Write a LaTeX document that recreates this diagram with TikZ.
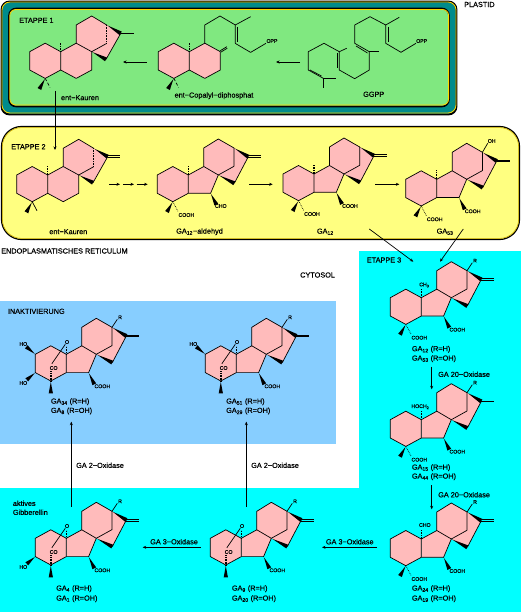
\documentclass[tikz,border=0pt]{standalone}
\usepackage{fontspec}
\setmainfont{Liberation Sans}[RawFeature={embolden=0.4}]
\usetikzlibrary{calc,arrows.meta}
\definecolor{pinkc}{HTML}{FFBBBB}
\definecolor{greenc}{HTML}{80E880}
\definecolor{tealc}{HTML}{008B8B}
\definecolor{goldc}{HTML}{FFD700}
\definecolor{yellowc}{HTML}{FFFF80}
\definecolor{cyanc}{HTML}{00FFFF}
\definecolor{bluec}{HTML}{87CEFF}
\newcommand{\labfont}{\fontsize{7.3}{8}\selectfont}
\newcommand{\chemfont}{\fontsize{5.2}{6}\selectfont}
\tikzset{
  bond/.style={line width=0.7pt,line join=round},
  hashb/.style={line width=1.5pt,dash pattern=on 0.8pt off 0.8pt},
  lab/.style={font=\labfont,inner sep=0pt,anchor=center},
  labw/.style={font=\labfont,inner sep=0pt,anchor=west},
  chem/.style={font=\chemfont,inner sep=0pt,anchor=center},
  arrow/.style={line width=0.7pt,-{Stealth[length=3.5pt,width=3pt]}}
}
\newcommand{\wdg}[2]{\fill ($(#1)!0.15pt!90:(#2)$) -- ($(#2)!2.1pt!90:(#1)$) -- ($(#2)!2.1pt!-90:(#1)$) -- ($(#1)!0.15pt!-90:(#2)$) -- cycle;}
\newcommand{\rings}{%
  \draw[bond] (0,0) -- (0,18.3) -- (-15.5,26.7) -- (-31,18.3) -- (-31,0) -- (-15.5,-8.5) -- cycle;}
% kaurene-type skeleton
\newcommand{\kaur}[4]{\begin{scope}[shift={(#2,#3)},name prefix=#1-]
  \fill[pinkc] (0,0) -- (0,18.3) -- (-15.5,26.7) -- (-31,18.3) -- (-31,0) -- (-15.5,-8.5) -- cycle;
  \fill[pinkc] (0,0) -- (15.5,-8.5) -- (15.5,-26.7) -- (31,-35.7) -- (46,-26.7) -- (60,-18.3) -- (45.3,7.7) -- (31,0) -- (31,18.3) -- (15.5,26.7) -- (0,18.3) -- cycle;
  \rings
  \draw[bond] (0,0) -- (15.5,-8.5) -- (31,0) -- (31,18.3) -- (15.5,26.7) -- (0,18.3);
  \draw[bond] (15.5,-8.5) -- (15.5,-26.7) -- (31,-35.7) -- (46,-26.7);
  \draw[bond] (60,-18.3) -- (45.3,7.7);
  \draw[bond] (46,-8.3) -- (31,0);
  \draw[hashb] (46,-26.7) -- (46,-8.3);
  \wdg{46,-26.7}{60,-18.3}
  \wdg{31,0}{45.3,7.7}
  \draw[hashb] (0,0) -- (0,-9.5);
  \wdg{-15.5,26.7}{-21.3,37.3}
  #4
\end{scope}}
% gibberellin skeleton
\newcommand{\gask}[4]{\begin{scope}[shift={(#2,#3)},name prefix=#1-]
  \fill[pinkc] (0,0) -- (0,18.3) -- (-15.5,26.7) -- (-31,18.3) -- (-31,0) -- (-15.5,-8.5) -- cycle;
  \fill[pinkc] (0,0) -- (15.5,-8.5) -- (15.5,-27) -- (30,-36) -- (45.7,-27) -- (60,-18.3) -- (46,8.3) -- (30,0) -- (22.3,18.3) -- (0,18.3) -- cycle;
  \rings
  \draw[bond] (0,0) -- (15.5,-8.5) -- (30,0) -- (22.3,18.3) -- (0,18.3);
  \draw[bond] (15.5,-8.5) -- (15.5,-27) -- (30,-36) -- (45.7,-27) -- (45.7,-8.7) -- (30,0);
  \draw[bond] (60,-18.3) -- (46,8.3);
  \wdg{45.7,-27}{60,-18.3}
  \wdg{30,0}{46,8.3}
  #4
\end{scope}}
\newcommand{\exod}{\draw[line width=0.6pt] (60,-19.3) -- (72.5,-19.3) (60,-17.3) -- (72.5,-17.3);}
\newcommand{\exos}{\draw[line width=1.4pt] (60,-18.3) -- (73,-18.3);}
\newcommand{\meH}{\draw[hashb] (0,0) -- (0,-9.5);}
\newcommand{\meA}{\wdg{-15.5,26.7}{-21.3,37}}
\newcommand{\cooA}{\draw[bond,densely dotted] (-15.5,26.7) -- (-10,37);\node[chem] (cooa) at (-2,40) {COOH};}
\newcommand{\cooB}{\wdg{22.3,18.3}{28,30}\node[chem] (coob) at (36,32) {COOH};}
\newcommand{\Rsub}{\draw[bond] (45.7,-27) -- (51,-35);\node[chem] (r) at (53.7,-37) {R};}
\newcommand{\lacton}{%
  \draw[hashb] (0,0) -- (0,-8);
  \node[chem] (o) at (0.7,-12.3) {O};
  \draw[bond] (-1,-10) -- (-14.5,9.5);
  \node[chem] (co) at (-12.7,13.7) {CO};
  \draw[hashb] (-15.5,17) -- (-15.5,26.7);
  \wdg{-15.5,26.7}{-15.5,39}
  \cooB
  \Rsub}
\begin{document}
\begin{tikzpicture}[x=1pt,y=-1pt]
\useasboundingbox (0,0) rectangle (521,612);
\fill[white] (0,0) rectangle (521,612);
% backgrounds
\fill[cyanc] (359,251) -- (521,251) -- (521,612) -- (0,612) -- (0,488) -- (359,488) -- cycle;
\fill[bluec] (0,301) rectangle (336,444);
\draw[rounded corners=8pt,fill=tealc,draw=black,line width=1.8pt] (1.5,1.5) rectangle (456.5,114.5);
\draw[rounded corners=8pt,draw=goldc,line width=0.8pt] (2,2) rectangle (456,113);
\draw[rounded corners=7pt,fill=greenc,draw=black,line width=1.6pt] (9,8.5) rectangle (449,106.5);
\draw[rounded corners=6pt,draw=goldc,line width=0.8pt] (9.8,9.5) rectangle (448.6,105);
\draw[rounded corners=20pt,fill=yellowc,draw=black,line width=1.2pt] (1.5,126.5) rectangle (519.5,239.5);
\draw[rounded corners=19pt,draw=goldc!80!black,line width=0.6pt] (2.4,127.6) rectangle (518.6,238.4);

% Etappe 1
\node[labw] (plastid) at (464,4.5) {PLASTID};
\node[labw] (et1) at (19,20.3) {ETAPPE 1};
\kaur{ka}{60.7}{51.7}{\exos\draw[bond,densely dashed] (-15.5,26.7) -- (-10.7,35.7);}
\node[lab] (kaname) at (80,97.7) {ent−Kauren};
% copalyl
\begin{scope}[shift={(189.3,51.7)},name prefix=cp-]
  \fill[pinkc] (0,0) -- (0,18.3) -- (-15.5,26.7) -- (-31,18.3) -- (-31,0) -- (-15.5,-8.5) -- cycle;
  \fill[pinkc] (0,0) -- (15.5,-8.5) -- (31,0) -- (31,18.3) -- (15.5,26.7) -- (0,18.3) -- cycle;
  \rings
  \draw[bond] (0,0) -- (15.5,-8.5) -- (31,0) -- (31,18.3) -- (15.5,26.7) -- (0,18.3);
  \draw[hashb] (0,0) -- (0,-9.5);
  \wdg{-15.5,26.7}{-21.3,37.3}
  \draw[bond,densely dashed] (-15.5,26.7) -- (-10.7,35.7);
  \draw[bond] (31,-1) -- (37.5,-5) (31.5,0.5) -- (38,-3.5);
  \draw[bond] (15.5,-8.5) -- (15.5,-26.7) -- (30.7,-35.7) -- (46,-26.7) -- (46,-8.3) -- (61.3,0.7) -- (76.7,-8.4);
  \draw[bond] (48.5,-25) -- (48.5,-9.5);
  \draw[bond] (46,-26.7) -- (61.3,-35);
  \node[chem] (opp) at (82.7,-10.7) {OPP};
\end{scope}
\node[lab] (cpname) at (214,95.7) {ent−Copalyl−diphosphat};
% GGPP
\draw[bond] (323.3,87.7) -- (323.3,78.3) -- (336,78.3);
\draw[bond] (323.3,78.3) -- (308.3,70) -- (308.3,51.7) -- (324,43.3) -- (339.3,51.7) -- (339.3,70) -- (354.7,78.7) -- (369.3,70) -- (369.3,51.7) -- (354.7,43.3) -- (354.7,25) -- (370,16.7) -- (385.7,25) -- (385.7,43.3) -- (401,52.3) -- (416,43.3);
\draw[bond] (339.3,51.7) -- (346.7,48.3);
\draw[bond] (369.3,51.7) -- (378.7,51.7);
\draw[bond] (385.7,25) -- (399.3,17.3);
\draw[bond] (321.5,76) -- (310,70);
\draw[bond] (337,53) -- (337,68.5);
\draw[bond] (367.5,53) -- (356,46);
\draw[bond] (388,27) -- (388,42);
\node[chem] (ggopp) at (421.7,41) {OPP};
\node[lab] (ggname) at (373.7,94.3) {GGPP};

% Etappe 2
\node[labw] (et2) at (11,146.7) {ETAPPE 2};
\kaur{kb}{47.7}{175}{\exod\draw[bond] (-15.5,26.7) -- (-10.7,35.7);}
\node[lab] (kbname) at (68.3,231.7) {ent−Kauren};
\gask{gal}{188.3}{175}{\exod\meH\meA\cooA\wdg{22.3,18.3}{28,29.5}\node[chem] (cho) at (32.5,31) {CHO};}
\node[lab] (galname) at (199.5,231.7) {GA\textsubscript{12}−aldehyd};
\gask{gb}{314}{174}{\exod\meH\meA\cooA\cooB}
\node[lab] (gbname) at (325.3,231.7) {GA\textsubscript{12}};
\gask{gc}{436.7}{179.3}{\exos\meH\meA\cooA\cooB\draw[bond] (45.7,-27) -- (51,-36);\node[chem] (oh) at (55,-38.3) {OH};}
\node[lab] (gcname) at (445,231.7) {GA\textsubscript{53}};
\node[labw] (er) at (1,251) {ENDOPLASMATISCHES RETICULUM};
\node[labw] (cyto) at (300,275) {CYTOSOL};

% Etappe 3
\node[labw] (et3) at (366.7,260) {ETAPPE 3};
\gask{e1}{421.3}{297.7}{\exod\meA\cooA\cooB\Rsub\draw[hashb] (0,0) -- (0,-9);\node[chem] (sub) at (3,-12.7) {CH\textsubscript{3}};}
\node[labw] (e1a) at (411.7,349.3) {GA\textsubscript{12} (R=H)};
\node[labw] (e1b) at (411.7,358.7) {GA\textsubscript{53} (R=OH)};
\gask{e2}{421.3}{419.7}{\exos\meA\cooA\cooB\Rsub\draw[hashb] (0,0) -- (0,-9);\node[chem] (sub) at (-1,-13) {HOCH\textsubscript{2}};}
\node[labw] (e2a) at (411.7,467.7) {GA\textsubscript{15} (R=H)};
\node[labw] (e2b) at (411.7,476.7) {GA\textsubscript{44} (R=OH)};
\gask{e3}{421.3}{539}{\exod\meA\cooA\cooB\Rsub\draw[hashb] (0,0) -- (0,-9);\node[chem] (sub) at (3.5,-14) {CHO};}
\node[labw] (e3a) at (411.7,588.7) {GA\textsubscript{24} (R=H)};
\node[labw] (e3b) at (411.7,598.7) {GA\textsubscript{19} (R=OH)};

% Inaktivierung
\node[labw] (ina) at (7.7,311.3) {INAKTIVIERUNG};
\gask{i1}{66.3}{354.3}{\exos\lacton
  \wdg{-31,0}{-40,-7.5}\node[chem] (ho) at (-43,-10.3) {HO};
  \wdg{-31,18.3}{-39.5,25.5}\node[chem] (hob) at (-43,28.7) {HO};}
\node[labw] (i1a) at (50.7,401.7) {GA\textsubscript{34} (R=H)};
\node[labw] (i1b) at (50.7,411) {GA\textsubscript{8} (R=OH)};
\gask{i2}{236.3}{354.3}{\exos\lacton
  \wdg{-31,0}{-40,-7.5}\node[chem] (ho) at (-43,-10.3) {HO};}
\node[labw] (i2a) at (226,401.7) {GA\textsubscript{51} (R=H)};
\node[labw] (i2b) at (226,411) {GA\textsubscript{29} (R=OH)};

% active gibberellins
\node[labw] (akt) at (12.7,503.3) {aktives};
\node[labw] (gib) at (12.7,512.3) {Gibberellin};
\gask{a1}{66.3}{538.3}{\exod\lacton
  \wdg{-31,18.3}{-39.5,25.5}\node[chem] (hob) at (-43,28.7) {HO};}
\node[labw] (a1a) at (56,588.7) {GA\textsubscript{4} (R=H)};
\node[labw] (a1b) at (56,598.7) {GA\textsubscript{1} (R=OH)};
\gask{a2}{241.3}{538.3}{\exod\lacton}
\node[labw] (a2a) at (231.7,588.7) {GA\textsubscript{9} (R=H)};
\node[labw] (a2b) at (231.7,598.7) {GA\textsubscript{20} (R=OH)};

% connector ends
\coordinate (s1) at (146.7,62); \coordinate (t1) at (123,62);
\coordinate (s2) at (300,62);   \coordinate (t2) at (276,62);
\coordinate (s3) at (55,91);    \coordinate (t3) at (55,150);
\coordinate (s4a) at (109.3,184.3); \coordinate (t4a) at (120,184.3);
\coordinate (s4b) at (123.3,184.3); \coordinate (t4b) at (134,184.3);
\coordinate (s4c) at (136.7,184.3); \coordinate (t4c) at (147.7,184.3);
\coordinate (s5) at (249.3,184.3); \coordinate (t5) at (272.7,184.3);
\coordinate (s6) at (375,184.3); \coordinate (t6) at (399.3,184.3);
\coordinate (s7) at (369.3,229); \coordinate (t7) at (413.3,261.7);
\coordinate (s8) at (463.3,229); \coordinate (t8) at (440,261.7);
\coordinate (s9) at (431.7,366.7); \coordinate (t9) at (431.7,389.3);
\coordinate (s10) at (431.7,485); \coordinate (t10) at (431.7,509.3);
\coordinate (s11) at (376.7,547.3); \coordinate (t11) at (322,547.3);
\coordinate (s12) at (200.7,547.3); \coordinate (t12) at (142.7,547.3);
\coordinate (s13) at (71.3,506.7); \coordinate (t13) at (71.3,421.7);
\coordinate (s14) at (246.3,506.7); \coordinate (t14) at (246.3,421.7);
\draw[arrow] (s1) -- (t1);
\draw[arrow] (s2) -- (t2);
\draw[arrow] (s3) -- (t3);
\draw[arrow] (s4a) -- (t4a);
\draw[arrow] (s4b) -- (t4b);
\draw[arrow] (s4c) -- (t4c);
\draw[arrow] (s5) -- (t5);
\draw[arrow] (s6) -- (t6);
\draw[arrow] (s7) -- (t7);
\draw[arrow] (s8) -- (t8);
\draw[arrow] (s9) -- (t9);
\draw[arrow] (s10) -- (t10);
\draw[arrow] (s11) -- (t11);
\draw[arrow] (s12) -- (t12);
\draw[arrow] (s13) -- (t13);
\draw[arrow] (s14) -- (t14);
\node[labw] (ox1) at (438,374.3) {GA 20−Oxidase};
\node[labw] (ox2) at (438,494.7) {GA 20−Oxidase};
\node[labw] (ox3) at (325.7,541.7) {GA 3−Oxidase};
\node[labw] (ox4) at (150,541.7) {GA 3−Oxidase};
\node[labw] (ox5) at (76,465.3) {GA 2−Oxidase};
\node[labw] (ox6) at (251,465.3) {GA 2−Oxidase};
\end{tikzpicture}
\end{document}
